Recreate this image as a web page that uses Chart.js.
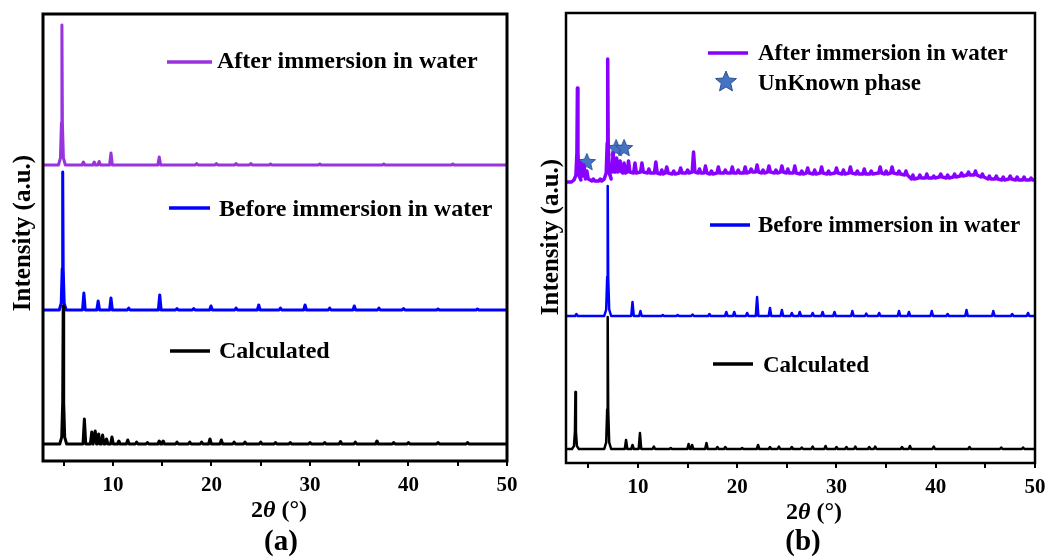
<!DOCTYPE html>
<html lang="en">
<head>
<meta charset="UTF-8">
<title>PXRD patterns before and after immersion in water</title>
<script src="https://cdn.jsdelivr.net/npm/chart.js"></script>
<style>
  body { margin: 0; background: #fff; }
  .wrap { position: relative; width: 1056px; height: 559px; }
  canvas { position: absolute; top: 0; }
  #chartA { left: 0; }
  #chartB { left: 528px; }
</style>
</head>
<body>
<div class="wrap">
  <canvas id="chartA" width="528" height="559"></canvas>
  <canvas id="chartB" width="528" height="559"></canvas>
</div>
<script>
// ---------- panel (a) : peak positions (2theta) and peak tops, stacked intensity (a.u.) ----------
const aRange = [2.9, 50];
const aTicks = [10, 20, 30, 40, 50];

const aCalcPos = [4.95, 7.1, 7.85, 8.2, 8.55, 8.95, 9.35, 9.9, 10.6, 11.5, 12.4, 13.5, 14.7, 15.1, 16.5, 17.8, 19.0, 19.85, 21.0, 22.3, 23.4, 25.0, 26.5, 28.0, 30.0, 31.5, 33.1, 34.6, 36.8, 38.5, 40.0, 43.0, 46.0];
const aCalcTop = [155, 42, 29, 30, 27, 26, 22, 24, 20, 21, 19, 18.5, 20, 20, 19, 19, 19, 22, 21, 19, 19, 19, 18.5, 18.5, 18.5, 18.5, 19.5, 19, 20, 18.5, 18.5, 18.5, 18.5];
const aCalcBase = 17;

const aBeforePos = [4.9, 7.05, 8.5, 9.8, 11.6, 14.75, 16.5, 18.2, 19.95, 22.5, 24.8, 27.0, 29.5, 32.0, 34.5, 37.0, 39.5, 43.0, 47.0];
const aBeforeTop = [289, 168, 160, 163, 153, 166, 152.5, 152.5, 155, 153, 156, 153, 156, 153, 155, 153, 152.5, 152, 152];
const aBeforeBase = 151;

const aAfterPos = [4.82, 7.0, 8.1, 8.6, 9.8, 14.7, 18.5, 20.5, 22.5, 24.0, 26.0, 31.0, 37.5, 44.5];
const aAfterTop = [436, 299, 299, 299.5, 308, 304, 297.5, 297.5, 297.5, 297.5, 297, 297, 297, 297];
const aAfterBase = 296;

// ---------- panel (b) ----------
const bRange = [2.75, 50];
const bTicks = [10, 20, 30, 40, 50];

const bCalcPos = [3.7, 6.95, 8.8, 9.45, 10.2, 11.6, 13.3, 15.1, 15.45, 16.9, 18.0, 18.8, 20.5, 22.1, 23.3, 24.2, 25.5, 26.5, 27.6, 28.9, 30.0, 31.0, 31.9, 33.3, 33.9, 36.6, 37.4, 39.8, 43.4, 46.6, 48.8];
const bCalcTop = [71, 146, 23, 18, 30, 16.5, 15, 19, 18, 20, 16, 16, 15, 18, 16, 16.5, 16, 15.5, 16.5, 17, 16, 16, 16.5, 16, 16.5, 16, 17, 16.5, 16, 15.5, 15.5];
const bCalcBase = 14;

const bBeforePos = [3.8, 6.95, 9.45, 10.25, 12.5, 14.0, 15.5, 17.2, 18.9, 19.7, 21.0, 22.0, 23.3, 24.5, 25.5, 26.3, 27.6, 28.6, 29.8, 31.6, 33.0, 34.3, 36.3, 37.3, 39.6, 41.2, 43.1, 45.8, 47.7, 49.3];
const bBeforeTop = [149, 277, 161, 152, 148, 148, 148.5, 149, 151, 151, 150, 166, 155, 153, 150, 151, 150, 151, 151, 152, 149.5, 150, 152, 151, 152, 149, 153, 152, 149, 150];
const bBeforeBase = 147;

const bAfterPos = [3.3, 3.9, 4.25, 4.55, 4.85, 5.5, 6.2, 6.95, 7.25, 7.5, 7.85, 8.2, 8.6, 9.05, 9.7, 10.4, 11.1, 11.8, 12.4, 12.9, 13.6, 14.3, 15.0, 15.6, 16.2, 16.8, 17.4, 18.1, 18.8, 19.5, 20.1, 20.8, 21.4, 22.0, 22.6, 23.2, 23.9, 24.5, 25.1, 25.8, 26.5, 27.1, 27.8, 28.5, 29.2, 30.0, 30.7, 31.4, 32.1, 32.8, 33.5, 34.4, 35.0, 35.6, 36.3, 37.0, 37.7, 38.4, 39.1, 39.8, 40.5, 41.2, 41.9, 42.6, 43.3, 44.0, 44.7, 45.4, 46.1, 46.8, 47.5, 48.2, 48.9, 49.6];
const bAfterTop = [281, 375, 300, 298, 292, 284, 284, 404, 292, 310, 305, 302, 300, 302, 300, 300, 294, 301, 293, 296, 292, 295, 293, 311, 294, 297, 292, 296, 293, 296, 293, 296, 294, 298, 293, 297, 293, 297, 294, 297, 292, 295, 293, 296, 292, 295, 293, 296, 292, 294, 292, 296, 292, 296, 292, 292, 288, 288, 289, 287, 289, 288, 289, 290, 291, 292, 289, 287, 287, 286, 287, 286, 286, 285];
const bAfterBase = [281, 283, 289, 287, 284, 282, 282, 284, 291, 291, 291, 291, 290, 291, 290, 291, 290, 290, 289, 290, 289, 290, 290, 291, 290, 290, 289, 290, 290, 290, 290, 290, 291, 291, 290, 291, 290, 291, 290, 290, 289, 290, 289, 290, 289, 290, 289, 290, 289, 289, 289, 290, 289, 290, 289, 288, 284, 285, 285, 285, 286, 285, 286, 287, 288, 288, 286, 284, 284, 283, 284, 283, 283, 283];

// unknown phase markers
const bStarX = [4.85, 7.8, 8.6];
const bStarY = [301, 315, 315];

// colours
const purpleA = '#9933dd';
const purpleB = '#8800ff';
const blue = '#0000ff';
const black = '#000000';
const starBlue = '#4472c4';

// turn a peak list into line points (sharp peaks on a baseline, tall ones with a small foot)
function profile(range, pos, top, base, w) {
  const b = i => Array.isArray(base) ? base[i] : base;
  const pts = [{ x: range[0], y: b(0) }];
  pos.forEach((p, i) => {
    const h = top[i] - b(i);
    if (h > 40) {
      pts.push({ x: p - 0.35, y: b(i) }, { x: p - 0.15, y: b(i) + h * 0.05 }, { x: p - 0.05, y: b(i) + h * 0.3 },
               { x: p, y: top[i] },
               { x: p + 0.05, y: b(i) + h * 0.3 }, { x: p + 0.15, y: b(i) + h * 0.05 }, { x: p + 0.35, y: b(i) });
    } else if (h > 0) {
      pts.push({ x: p - w, y: b(i) }, { x: p, y: top[i] }, { x: p + w, y: b(i) });
    } else {
      pts.push({ x: p, y: b(i) });
    }
  });
  pts.push({ x: range[1], y: b(pos.length - 1) });
  return pts;
}

function starPath(ctx, cx, cy, r) {
  ctx.beginPath();
  for (let i = 0; i < 10; i++) {
    const rr = i % 2 === 0 ? r : r * 0.45;
    const a = -Math.PI / 2 + i * Math.PI / 5;
    const px = cx + rr * Math.cos(a), py = cy + rr * Math.sin(a);
    if (i === 0) ctx.moveTo(px, py); else ctx.lineTo(px, py);
  }
  ctx.closePath();
}

function drawStar(ctx, cx, cy, r) {
  starPath(ctx, cx, cy, r);
  ctx.fillStyle = starBlue;
  ctx.fill();
  ctx.lineWidth = 1;
  ctx.strokeStyle = '#2f528f';
  ctx.stroke();
}

// point image for the star markers
const starImg = document.createElement('canvas');
starImg.width = 20; starImg.height = 20;
drawStar(starImg.getContext('2d'), 10, 10.5, 9);

const serif = '"Liberation Serif", "Times New Roman", serif';

// frame, legend and titles drawn on top of each panel
function decorPlugin(cfg) {
  return {
    id: 'decor',
    afterDraw(chart) {
      const ctx = chart.ctx;
      const ca = chart.chartArea;
      ctx.save();
      ctx.strokeStyle = '#000';
      ctx.lineWidth = cfg.frame;
      ctx.strokeRect(ca.left, ca.top, ca.right - ca.left, ca.bottom - ca.top);

      ctx.fillStyle = '#000';
      ctx.textBaseline = 'alphabetic';
      ctx.textAlign = 'left';
      ctx.font = 'bold ' + cfg.legendSize + 'px ' + serif;
      cfg.legend.forEach(it => {
        if (it.star) {
          drawStar(ctx, it.star[0], it.star[1], 11);
        } else {
          ctx.strokeStyle = it.color;
          ctx.lineWidth = 3.5;
          ctx.beginPath();
          ctx.moveTo(it.x1, it.y);
          ctx.lineTo(it.x2, it.y);
          ctx.stroke();
        }
        ctx.fillStyle = '#000';
        ctx.fillText(it.text, it.tx, it.ty);
      });

      // y title
      ctx.save();
      ctx.translate(cfg.yTitle[0], cfg.yTitle[1]);
      ctx.rotate(-Math.PI / 2);
      ctx.textAlign = 'center';
      ctx.font = 'bold 25px ' + serif;
      ctx.fillText('Intensity (a.u.)', 0, 0);
      ctx.restore();

      // x title: 2θ (°) with italic theta
      const parts = [['2', 'bold 24px '], ['\u03b8', 'italic bold 24px '], [' (\u00b0)', 'bold 24px ']];
      let total = 0;
      parts.forEach(p => { ctx.font = p[1] + serif; total += ctx.measureText(p[0]).width; });
      let x = cfg.xTitle[0] - total / 2;
      parts.forEach(p => {
        ctx.font = p[1] + serif;
        ctx.fillText(p[0], x, cfg.xTitle[1]);
        x += ctx.measureText(p[0]).width;
      });

      // panel label
      ctx.textAlign = 'center';
      ctx.font = 'bold 29px ' + serif;
      ctx.fillText(cfg.panel, cfg.panelPos[0], cfg.panelPos[1]);
      ctx.restore();
    }
  };
}

function makeChart(id, range, ticks, ymax, datasets, pad, cfg) {
  return new Chart(document.getElementById(id), {
    type: 'line',
    data: { datasets: datasets },
    options: {
      responsive: false,
      animation: false,
      devicePixelRatio: 1,
      layout: { padding: pad },
      plugins: { legend: { display: false }, tooltip: { enabled: false } },
      elements: { point: { radius: 0 }, line: { tension: 0, borderJoinStyle: 'round' } },
      scales: {
        x: {
          type: 'linear',
          min: range[0],
          max: range[1],
          afterFit(scale) { scale.height = 40; },
          afterBuildTicks(scale) {
            const t = [];
            for (let v = 5; v <= range[1]; v += 5) t.push({ value: v });
            scale.ticks = t;
          },
          ticks: {
            autoSkip: false,
            maxRotation: 0,
            padding: 7,
            color: '#000',
            font: { family: serif, size: 21, weight: 'bold' },
            callback: v => ticks.includes(v) ? String(v) : ''
          },
          grid: { drawOnChartArea: false, drawTicks: true, tickLength: 5, color: '#000', lineWidth: 2 },
          border: { display: false }
        },
        y: { display: false, min: 0, max: ymax }
      }
    },
    plugins: [decorPlugin(cfg)]
  });
}

const line = (data, color, width) => ({
  data: data, borderColor: color, borderWidth: width, fill: false, pointRadius: 0
});

makeChart('chartA', aRange, aTicks, 447, [
  line(profile(aRange, aCalcPos, aCalcTop, aCalcBase, 0.14), black, 3),
  line(profile(aRange, aBeforePos, aBeforeTop, aBeforeBase, 0.14), blue, 3),
  line(profile(aRange, aAfterPos, aAfterTop, aAfterBase, 0.14), purpleA, 3)
], { left: 43, right: 21, top: 14, bottom: 58 }, {
  frame: 3,
  legendSize: 24,
  legend: [
    { x1: 167, x2: 212, y: 62, color: purpleA, text: 'After immersion in water', tx: 217, ty: 68 },
    { x1: 169, x2: 210, y: 208, color: blue, text: 'Before immersion in water', tx: 219, ty: 216 },
    { x1: 170, x2: 210, y: 351, color: black, text: 'Calculated', tx: 219, ty: 358 }
  ],
  yTitle: [30, 233],
  xTitle: [279, 517],
  panel: '(a)',
  panelPos: [281, 550]
});

makeChart('chartB', bRange, bTicks, 450, [
  line(profile(bRange, bCalcPos, bCalcTop, bCalcBase, 0.13), black, 2.5),
  line(profile(bRange, bBeforePos, bBeforeTop, bBeforeBase, 0.13), blue, 2.5),
  line(profile(bRange, bAfterPos, bAfterTop, bAfterBase, 0.14), purpleB, 3.5),
  {
    data: bStarX.map((x, i) => ({ x: x, y: bStarY[i] })),
    showLine: false,
    pointStyle: starImg,
    pointRadius: 9,
    pointHoverRadius: 9
  }
], { left: 38, right: 21, top: 13, bottom: 56 }, {
  frame: 2.5,
  legendSize: 23,
  legend: [
    { x1: 180, x2: 220, y: 53, color: purpleB, text: 'After immersion in water', tx: 230, ty: 60 },
    { star: [198, 82], text: 'UnKnown phase', tx: 230, ty: 90 },
    { x1: 182, x2: 222, y: 225, color: blue, text: 'Before immersion in water', tx: 230, ty: 232 },
    { x1: 185, x2: 225, y: 364, color: black, text: 'Calculated', tx: 235, ty: 372 }
  ],
  yTitle: [558 - 528, 237],
  xTitle: [814 - 528, 519],
  panel: '(b)',
  panelPos: [803 - 528, 550]
});
</script>
</body>
</html>
